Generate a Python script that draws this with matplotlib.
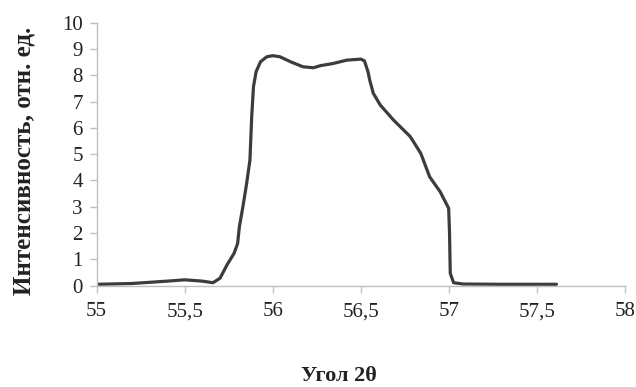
import matplotlib
matplotlib.use("Agg")
import matplotlib.pyplot as plt

angle = [55.0, 55.2, 55.4, 55.5, 55.6, 55.66, 55.70, 55.74, 55.78, 55.80, 55.81, 55.83,
         55.85, 55.87, 55.88, 55.89, 55.905, 55.93, 55.966, 56.0, 56.04, 56.1, 56.17,
         56.23, 56.27, 56.34, 56.42, 56.50, 56.52, 56.54, 56.55, 56.57, 56.61, 56.685,
         56.78, 56.84, 56.89, 56.95, 56.998, 57.003, 57.007, 57.026, 57.08, 57.3, 57.61]
intensity = [0.05, 0.08, 0.17, 0.22, 0.17, 0.11, 0.28, 0.79, 1.23, 1.6, 2.24, 3.0,
             3.83, 4.78, 6.43, 7.57, 8.14, 8.52, 8.71, 8.75, 8.71, 8.52, 8.33,
             8.29, 8.37, 8.45, 8.58, 8.62, 8.55, 8.14, 7.82, 7.32, 6.87, 6.3,
             5.67, 5.03, 4.14, 3.57, 2.94, 1.99, 0.47, 0.11, 0.06, 0.05, 0.05]

xticks = [55, 55.5, 56, 56.5, 57, 57.5, 58]
xticklabels = ["55", "55,5", "56", "56,5", "57", "57,5", "58"]
yticks = list(range(0, 11))

plt.rcParams['font.family'] = ['Liberation Serif', 'DejaVu Serif']

fig = plt.figure(figsize=(6.36, 3.87), dpi=100)
ax = fig.add_axes([0.152, 0.262, 0.831, 0.679])
ax.plot(angle, intensity, color='#3c3c3c', lw=2.3, solid_capstyle='round', solid_joinstyle='round')
ax.set_xlim(55, 58)
ax.set_ylim(0, 10)
ax.set_xticks(xticks)
ax.set_xticklabels(xticklabels)
ax.set_yticks(yticks)
for s in ['top', 'right']:
    ax.spines[s].set_visible(False)
for s in ['left', 'bottom']:
    ax.spines[s].set_color('#bfbfbf')
    ax.spines[s].set_linewidth(1.0)
ax.tick_params(axis='both', colors='#bfbfbf', labelcolor='#222222', labelsize=15, length=5, width=1.0, direction='out')
ax.tick_params(axis='x', pad=7)
ax.tick_params(axis='y', pad=5)
fig.text(0.533, 0.028, "Угол 2θ", ha='center', va='center', fontsize=16, fontweight='bold', color='#222222')
fig.text(0.038, 0.585, "Интенсивность, отн. ед.", ha='center', va='center', rotation=90,
         fontsize=18, fontweight='bold', color='#222222')
fig.savefig("out.png", dpi=100)
